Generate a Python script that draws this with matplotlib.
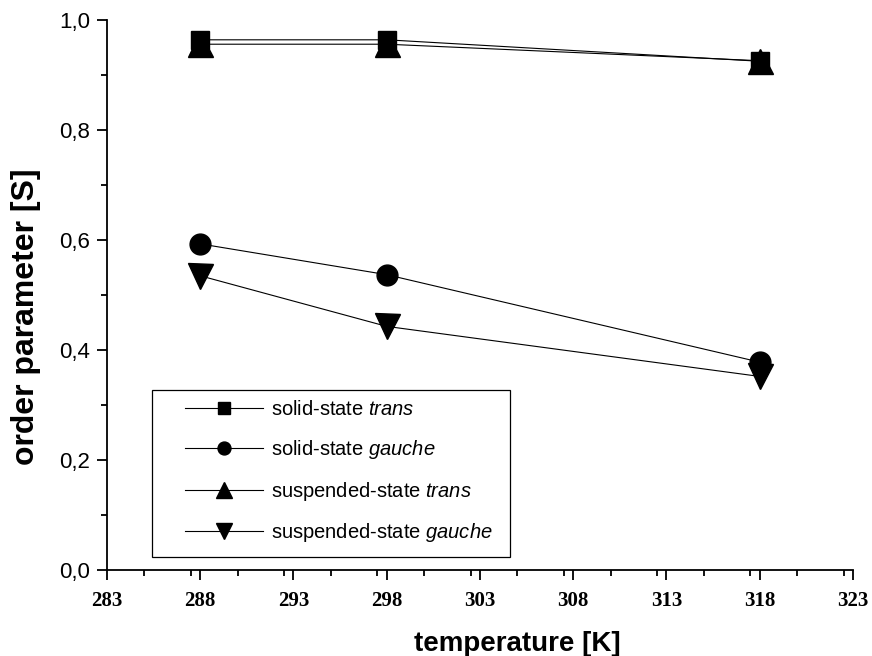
import numpy as np
import matplotlib
matplotlib.use("Agg")
import matplotlib.pyplot as plt
from matplotlib.patches import Rectangle
from matplotlib.ticker import MultipleLocator, FuncFormatter

plt.rcParams['font.family'] = ['Liberation Sans', 'DejaVu Sans']
plt.rcParams['mathtext.fontset'] = 'custom'
plt.rcParams['mathtext.rm'] = 'Liberation Sans'
plt.rcParams['mathtext.it'] = 'Liberation Sans:italic'

# temperatures [K]
temps = [288, 298, 318]

# order parameters S
solid_trans = [0.964, 0.964, 0.925]
solid_gauche = [0.593, 0.537, 0.378]
susp_trans = [0.956, 0.956, 0.926]
susp_gauche = [0.535, 0.443, 0.352]

xticks = [283, 288, 293, 298, 303, 308, 313, 318, 323]

series = [
    (solid_trans, 's', 13, r"solid-state $\mathit{trans}$"),
    (solid_gauche, 'o', 15, r"solid-state $\mathit{gauche}$"),
    (susp_trans, '^', 18, r"suspended-state $\mathit{trans}$"),
    (susp_gauche, 'v', 18, r"suspended-state $\mathit{gauche}$"),
]

fig = plt.figure(figsize=(8.72, 6.56), dpi=100)
ax = fig.add_axes([0.1227, 0.131, 0.8555, 0.8385])

for vals, mk, ms, lab in series:
    ax.plot(temps, vals, color='black', lw=0.8, marker=mk, markersize=ms,
            markerfacecolor='black', markeredgecolor='black', label=lab)

ax.set_xlim(283, 323)
ax.set_ylim(0.0, 1.0)
ax.set_xticks(xticks)
ax.xaxis.set_minor_locator(MultipleLocator(2.5))
ax.yaxis.set_major_locator(MultipleLocator(0.2))
ax.yaxis.set_minor_locator(MultipleLocator(0.1))
ax.yaxis.set_major_formatter(FuncFormatter(lambda v, p: f"{v:.1f}".replace('.', ',')))

for lbl in ax.get_xticklabels():
    lbl.set_fontfamily('Liberation Serif')
    lbl.set_fontweight('bold')
    lbl.set_fontsize(15)
ax.tick_params(axis='y', labelsize=16)
ax.tick_params(which='major', direction='out', length=7, width=1.3, color='black')
ax.tick_params(which='minor', direction='out', length=4.5, width=1.3, color='black')
ax.tick_params(axis='x', pad=8)
ax.tick_params(axis='y', pad=5)

ax.spines['top'].set_visible(False)
ax.spines['right'].set_visible(False)
ax.spines['left'].set_linewidth(1.3)
ax.spines['bottom'].set_linewidth(1.3)

ax.set_xlabel("temperature [K]", fontsize=20, fontweight='bold')
ax.set_ylabel("order parameter [S]", fontsize=23, fontweight='bold')
ax.xaxis.set_label_coords(0.55, -0.11)
ax.yaxis.set_label_coords(-0.089, 0.46)

# legend without its own frame; the box is drawn around it afterwards
leg = ax.legend(loc='upper left', bbox_to_anchor=(0.105, 0.309), fontsize=14.5,
                handlelength=3.85, markerscale=0.62, frameon=False,
                borderpad=0, labelspacing=0.93, handletextpad=0.4,
                borderaxespad=0)

fig.canvas.draw()
bb = leg.get_window_extent()
inv = fig.transFigure.inverted()
x0, y0 = inv.transform((bb.x0 - 33, bb.y0 - 13))
x1, y1 = inv.transform((bb.x1 + 17, bb.y1 + 10))
fig.patches.append(Rectangle((x0, y0), x1 - x0, y1 - y0, transform=fig.transFigure,
                             fill=False, edgecolor='black', linewidth=0.9))

fig.savefig("out.png", dpi=100)
